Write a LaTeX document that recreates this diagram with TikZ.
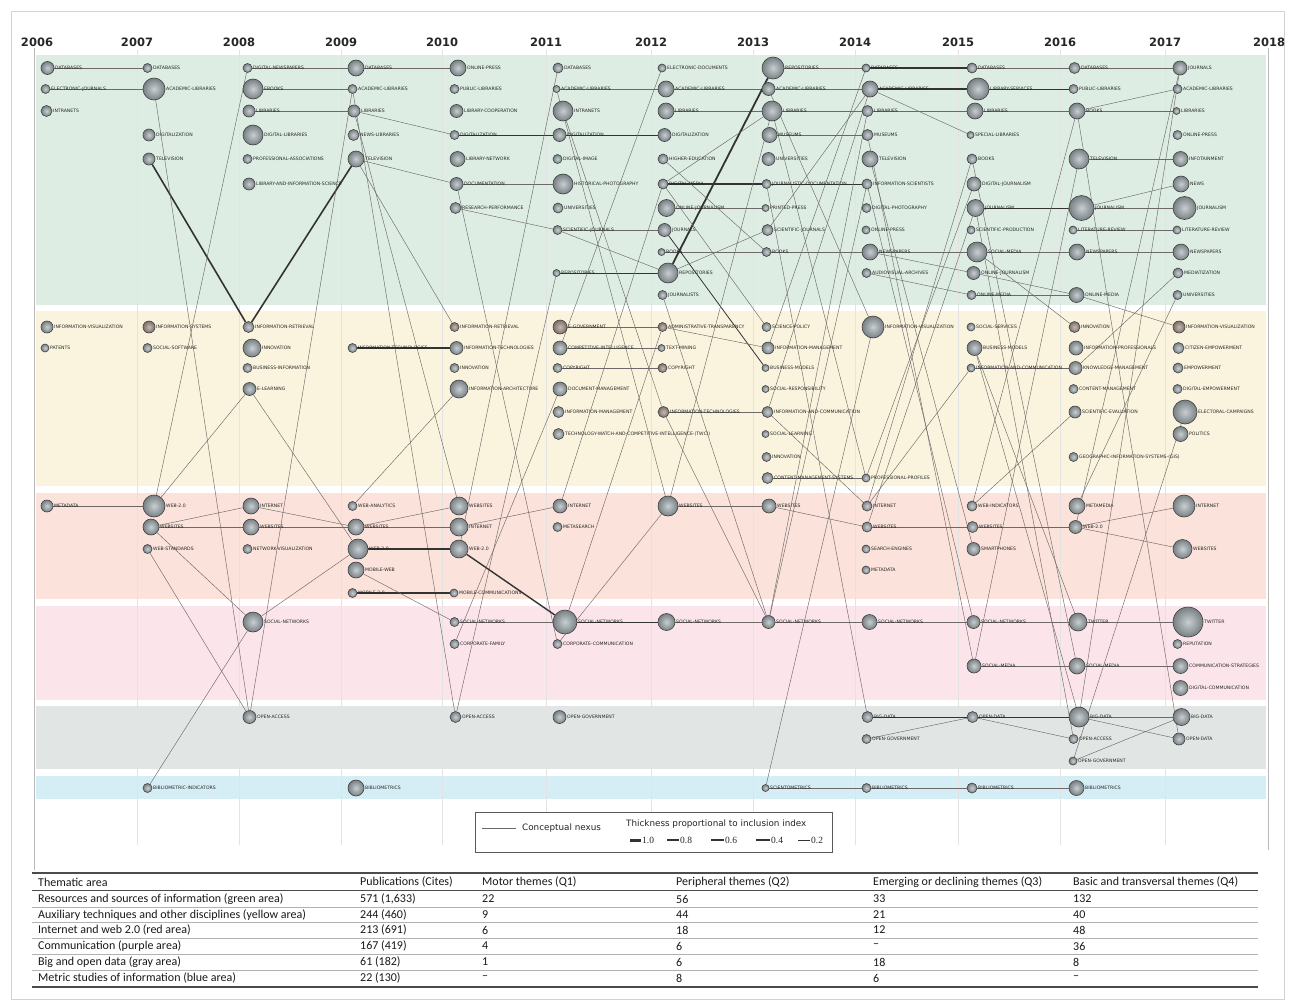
\documentclass[tikz,border=0pt]{standalone}
\usepackage{fontspec}
\setmainfont{DejaVu Sans}
\newfontfamily\tabfont{Carlito}
\newfontfamily\serfont{Liberation Serif}
\pgfdeclarelayer{bg}
\pgfdeclarelayer{edges}
\pgfsetlayers{bg,edges,main}
\definecolor{bgreen}{RGB}{221,237,227}
\definecolor{byellow}{RGB}{250,244,222}
\definecolor{bred}{RGB}{251,226,218}
\definecolor{bpink}{RGB}{251,229,235}
\definecolor{bgray}{RGB}{225,230,228}
\definecolor{bblue}{RGB}{213,237,245}
\definecolor{ndin}{RGB}{200,207,211}
\definecolor{ndout}{RGB}{120,128,132}
\definecolor{brin}{RGB}{198,184,178}
\definecolor{brout}{RGB}{126,111,105}
\definecolor{edgec}{RGB}{110,104,104}
\newcommand\T[6][nd]{\node[#1,minimum size=#5pt,label={[lbl]0:#6}] (#2) at ({#3+#5/2},#4) {};}
\newcommand\E[2]{\draw[ed] (#1) -- (#2);}
\newcommand\K[3]{\draw[edk=#1] (#2) -- (#3);}
\begin{document}
\begin{tikzpicture}[x=1pt,y=-1pt,label distance=0.4pt,
  nd/.style={circle,draw=black!75,line width=0.6pt,inner sep=0pt,shading=radial,inner color=ndin,outer color=ndout},
  nb/.style={nd,inner color=brin,outer color=brout},
  lbl/.style={font=\fontsize{4.6}{5}\selectfont,text=black!85,inner sep=0.3pt},
  ed/.style={draw=edgec,line width=0.45pt},
  edk/.style={draw=black!80,line width=#1},
  yr/.style={font=\fontsize{11.5}{13}\selectfont\bfseries,text=black!85,inner sep=0pt},
  tb/.style={font=\tabfont\fontsize{12}{13}\selectfont,anchor=west,inner sep=0pt,text=black!90},
  lg/.style={font=\fontsize{8.8}{10}\selectfont,anchor=west,inner sep=0pt,text=black!85},
  lgn/.style={font=\serfont\fontsize{9.5}{10}\selectfont,anchor=west,inner sep=0pt,text=black!85}]
\useasboundingbox (0,0) rectangle (1295,1001);
\begin{pgfonlayer}{bg}
\fill[white] (0,0) rectangle (1295,1001);
\draw[gray!35,line width=0.6pt] (11,11) rectangle (1284,999);
\fill[bgreen]  (36,55)  rectangle (1266,305);
\fill[byellow] (36,311) rectangle (1266,486);
\fill[bred]    (36,493) rectangle (1266,599);
\fill[bpink]   (36,606) rectangle (1266,700);
\fill[bgray]   (36,706) rectangle (1266,769);
\fill[bblue]   (36,776) rectangle (1266,799);
\foreach \x in {137,239,341,442,546,651,753,855,958,1060,1165}
  \draw[gray!22,line width=0.5pt] (\x,50) -- (\x,845);
\draw[gray!55,line width=0.6pt] (34,48) -- (34,870);
\draw[gray!55,line width=0.6pt] (1268,48) -- (1268,850);
\end{pgfonlayer}
% years
\node[yr] (yr06) at (37,42) {2006};
\node[yr] (yr07) at (137,42) {2007};
\node[yr] (yr08) at (239,42) {2008};
\node[yr] (yr09) at (341,42) {2009};
\node[yr] (yr10) at (442,42) {2010};
\node[yr] (yr11) at (546,42) {2011};
\node[yr] (yr12) at (651,42) {2012};
\node[yr] (yr13) at (753,42) {2013};
\node[yr] (yr14) at (855,42) {2014};
\node[yr] (yr15) at (958,42) {2015};
\node[yr] (yr16) at (1060,42) {2016};
\node[yr] (yr17) at (1165,42) {2017};
\node[yr] (yr18) at (1269,42) {2018};
% 2006
\T{n06g1}{41}{68}{13}{DATABASES}
\T{n06g2}{41}{89}{9}{ELECTRONIC-JOURNALS}
\T{n06g3}{41}{111}{11}{INTRANETS}
\T{n06y1}{41}{327}{12}{INFORMATION-VISUALIZATION}
\T{n06y2}{41}{348}{8}{PATENTS}
\T{n06r1}{41}{506}{12}{METADATA}
% 2007
\T{n07g1}{143}{68}{9}{DATABASES}
\T{n07g2}{143}{89}{22}{ACADEMIC-LIBRARIES}
\T{n07g4}{143}{135}{12}{DIGITALIZATION}
\T{n07g5}{143}{159}{12}{TELEVISION}
\T[nb]{n07y1}{143}{327}{12}{INFORMATION-SYSTEMS}
\T{n07y2}{143}{348}{9}{SOCIAL-SOFTWARE}
\T{n07r1}{143}{506}{22}{WEB-2.0}
\T{n07r2}{143}{527}{16}{WEBSITES}
\T{n07r3}{143}{549}{9}{WEB-STANDARDS}
\T{n07b1}{143}{788}{9}{BIBLIOMETRIC-INDICATORS}
% 2008
\T{n08g1}{243}{68}{9}{DIGITAL-NEWSPAPERS}
\T{n08g2}{243}{89}{20}{EBOOKS}
\T{n08g3}{243}{111}{12}{LIBRARIES}
\T{n08g4}{243}{135}{20}{DIGITAL-LIBRARIES}
\T{n08g5}{243}{159}{9}{PROFESSIONAL-ASSOCIATIONS}
\T{n08g6}{243}{184}{12}{LIBRARY-AND-INFORMATION-SCIENCE}
\T{n08y1}{243}{327}{11}{INFORMATION-RETRIEVAL}
\T{n08y2}{243}{348}{18}{INNOVATION}
\T{n08y3}{243}{368}{9}{BUSINESS-INFORMATION}
\T{n08y4}{243}{389}{13}{E-LEARNING}
\T{n08r1}{243}{506}{16}{INTERNET}
\T{n08r2}{243}{527}{16}{WEBSITES}
\T{n08r3}{243}{549}{9}{NETWORK-VISUALIZATION}
\T{n08p1}{243}{622}{20}{SOCIAL-NETWORKS}
\T{n08a1}{243}{717}{13}{OPEN-ACCESS}
% 2009
\T{n09g1}{348}{68}{16}{DATABASES}
\T{n09g2}{348}{89}{9}{ACADEMIC-LIBRARIES}
\T{n09g3}{348}{111}{12}{LIBRARIES}
\T{n09g4}{348}{135}{11}{NEWS-LIBRARIES}
\T{n09g5}{348}{159}{16}{TELEVISION}
\T{n09y2}{348}{348}{9}{INFORMATION-TECHNOLOGIES}
\T{n09r1}{348}{506}{9}{WEB-ANALYTICS}
\T{n09r2}{348}{527}{16}{WEBSITES}
\T{n09r3}{348}{549}{20}{WEB-2.0}
\T{n09r4}{348}{570}{16}{MOBILE-WEB}
\T{n09r5}{348}{593}{9}{MOBILE-2.0}
\T{n09b1}{348}{788}{16}{BIBLIOMETRICS}
% 2010
\T{n10g1}{450}{68}{16}{ONLINE-PRESS}
\T{n10g2}{450}{89}{9}{PUBLIC-LIBRARIES}
\T{n10g3}{450}{111}{13}{LIBRARY-COOPERATION}
\T{n10g4}{450}{135}{9}{DIGITALIZATION}
\T{n10g5}{450}{159}{15}{LIBRARY-NETWORK}
\T{n10g6}{450}{184}{13}{DOCUMENTATION}
\T{n10g7}{450}{208}{11}{RESEARCH-PERFORMANCE}
\T[nb]{n10y1}{450}{327}{9}{INFORMATION-RETRIEVAL}
\T{n10y2}{450}{348}{13}{INFORMATION-TECHNOLOGIES}
\T{n10y3}{450}{368}{9}{INNOVATION}
\T{n10y4}{450}{389}{18}{INFORMATION-ARCHITECTURE}
\T{n10r1}{450}{506}{18}{WEBSITES}
\T{n10r2}{450}{527}{18}{INTERNET}
\T{n10r3}{450}{549}{18}{WEB-2.0}
\T{n10r5}{450}{593}{8}{MOBILE-COMMUNICATIONS}
\T{n10p1}{450}{622}{9}{SOCIAL-NETWORKS}
\T{n10p2}{450}{644}{9}{CORPORATE-FAMILY}
\T{n10a1}{450}{717}{11}{OPEN-ACCESS}
% 2011
\T{n11g1}{553}{68}{10}{DATABASES}
\T{n11g2}{553}{89}{7}{ACADEMIC-LIBRARIES}
\T{n11g3}{553}{111}{20}{INTRANETS}
\T{n11g4}{553}{135}{13}{DIGITALIZATION}
\T{n11g5}{553}{159}{9}{DIGITAL-IMAGE}
\T{n11g6}{553}{184}{20}{HISTORICAL-PHOTOGRAPHY}
\T{n11g7}{553}{208}{10}{UNIVERSITIES}
\T{n11g8}{553}{230}{9}{SCIENTIFIC-JOURNALS}
\T{n11g10}{553}{273}{7}{REPOSITORIES}
\T[nb]{n11y1}{553}{327}{14}{E-GOVERNMENT}
\T{n11y2}{553}{348}{14}{COMPETITIVE-INTELLIGENCE}
\T{n11y3}{553}{368}{9}{COPYRIGHT}
\T{n11y4}{553}{389}{14}{DOCUMENT-MANAGEMENT}
\T{n11y5}{553}{412}{11}{INFORMATION-MANAGEMENT}
\T{n11y6}{553}{434}{11}{TECHNOLOGY-WATCH-AND-COMPETITIVE-INTELLIGENCE-(TWCI)}
\T{n11r1}{553}{506}{14}{INTERNET}
\T{n11r2}{553}{527}{9}{METASEARCH}
\T{n11p1}{553}{622}{24}{SOCIAL-NETWORKS}
\T{n11p2}{553}{644}{9}{CORPORATE-COMMUNICATION}
\T{n11a1}{553}{717}{13}{OPEN-GOVERNMENT}
% 2012
\T{n12g1}{658}{68}{8}{ELECTRONIC-DOCUMENTS}
\T{n12g2}{658}{89}{16}{ACADEMIC-LIBRARIES}
\T{n12g3}{658}{111}{16}{LIBRARIES}
\T{n12g4}{658}{135}{13}{DIGITALIZATION}
\T{n12g5}{658}{159}{10}{HIGHER-EDUCATION}
\T{n12g6}{658}{184}{10}{DIGITAL-MEDIA}
\T{n12g7}{658}{208}{17}{ONLINE-JOURNALISM}
\T{n12g8}{658}{230}{13}{JOURNALS}
\T{n12g9}{658}{252}{7}{BOOKS}
\T{n12g10}{658}{273}{20}{REPOSITORIES}
\T{n12g11}{658}{295}{9}{JOURNALISTS}
\T[nb]{n12y1}{658}{327}{9}{ADMINISTRATIVE-TRANSPARENCY}
\T{n12y2}{658}{348}{7}{TEXT-MINING}
\T[nb]{n12y3}{658}{368}{9}{COPYRIGHT}
\T[nb]{n12y5}{658}{412}{11}{INFORMATION-TECHNOLOGIES}
\T{n12r1}{658}{506}{20}{WEBSITES}
\T{n12p1}{658}{622}{17}{SOCIAL-NETWORKS}
% 2013
\T{n13g1}{762}{68}{22}{REPOSITORIES}
\T{n13g2}{762}{89}{13}{ACADEMIC-LIBRARIES}
\T{n13g3}{762}{111}{20}{LIBRARIES}
\T{n13g4}{762}{135}{15}{MUSEUMS}
\T{n13g5}{762}{159}{13}{UNIVERSITIES}
\T{n13g6}{762}{184}{9}{JOURNALISTIC-DOCUMENTATION}
\T{n13g7}{762}{208}{7}{PRINTED-PRESS}
\T{n13g8}{762}{230}{11}{SCIENTIFIC-JOURNALS}
\T{n13g9}{762}{252}{9}{BOOKS}
\T{n13y1}{762}{327}{9}{SCIENCE-POLICY}
\T{n13y2}{762}{348}{12}{INFORMATION-MANAGEMENT}
\T{n13y3}{762}{368}{7}{BUSINESS-MODELS}
\T{n13y4}{762}{389}{7}{SOCIAL-RESPONSIBILITY}
\T{n13y5}{762}{412}{11}{INFORMATION-AND-COMMUNICATION}
\T{n13y6}{762}{434}{7}{SOCIAL-LEARNING}
\T{n13y7}{762}{457}{9}{INNOVATION}
\T{n13y8}{762}{478}{11}{CONTENT-MANAGEMENT-SYSTEMS}
\T{n13r1}{762}{506}{14}{WEBSITES}
\T{n13p1}{762}{622}{13}{SOCIAL-NETWORKS}
\T{n13b1}{762}{788}{7}{SCIENTOMETRICS}
% 2014
\T{n14g1}{862}{68}{8}{DATABASES}
\T{n14g2}{862}{89}{16}{ACADEMIC-LIBRARIES}
\T{n14g3}{862}{111}{11}{LIBRARIES}
\T{n14g4}{862}{135}{11}{MUSEUMS}
\T{n14g5}{862}{159}{16}{TELEVISION}
\T{n14g6}{862}{184}{10}{INFORMATION-SCIENTISTS}
\T{n14g7}{862}{208}{9}{DIGITAL-PHOTOGRAPHY}
\T{n14g8}{862}{230}{8}{ONLINE-PRESS}
\T{n14g9}{862}{252}{16}{NEWSPAPERS}
\T{n14g10}{862}{273}{9}{AUDIOVISUAL-ARCHIVES}
\T{n14y1}{862}{327}{22}{INFORMATION-VISUALIZATION}
\T{n14y8}{862}{478}{8}{PROFESSIONAL-PROFILES}
\T{n14r1}{862}{506}{10}{INTERNET}
\T{n14r2}{862}{527}{10}{WEBSITES}
\T{n14r3}{862}{549}{8}{SEARCH-ENGINES}
\T{n14r4}{862}{570}{8}{METADATA}
\T{n14p1}{862}{622}{15}{SOCIAL-NETWORKS}
\T{n14a1}{862}{717}{11}{BIG-DATA}
\T{n14a2}{862}{739}{9}{OPEN-GOVERNMENT}
\T{n14b1}{862}{788}{9}{BIBLIOMETRICS}
% 2015
\T{n15g1}{967}{68}{10}{DATABASES}
\T{n15g2}{967}{89}{22}{LIBRARY-SERVICES}
\T{n15g3}{967}{111}{16}{LIBRARIES}
\T{n15g4}{967}{135}{7}{SPECIAL-LIBRARIES}
\T{n15g5}{967}{159}{10}{BOOKS}
\T{n15g6}{967}{184}{14}{DIGITAL-JOURNALISM}
\T{n15g7}{967}{208}{17}{JOURNALISM}
\T{n15g8}{967}{230}{8}{SCIENTIFIC-PRODUCTION}
\T{n15g9}{967}{252}{20}{SOCIAL-MEDIA}
\T{n15g10}{967}{273}{13}{ONLINE-JOURNALISM}
\T{n15g11}{967}{295}{9}{ONLINE-MEDIA}
\T{n15y1}{967}{327}{8}{SOCIAL-SERVICES}
\T{n15y2}{967}{348}{15}{BUSINESS-MODELS}
\T{n15y3}{967}{368}{8}{INFORMATION-AND-COMMUNICATION}
\T{n15r1}{967}{506}{10}{WEB-INDICATORS}
\T{n15r2}{967}{527}{11}{WEBSITES}
\T{n15r3}{967}{549}{13}{SMARTPHONES}
\T{n15p1}{967}{622}{13}{SOCIAL-NETWORKS}
\T{n15p3}{967}{666}{14}{SOCIAL-MEDIA}
\T{n15a1}{967}{717}{11}{OPEN-DATA}
\T{n15b1}{967}{788}{10}{BIBLIOMETRICS}
% 2016
\T{n16g1}{1069}{68}{11}{DATABASES}
\T{n16g2}{1069}{89}{9}{PUBLIC-LIBRARIES}
\T{n16g3}{1069}{111}{16}{BOOKS}
\T{n16g5}{1069}{159}{20}{TELEVISION}
\T{n16g7}{1069}{208}{25}{JOURNALISM}
\T{n16g8}{1069}{230}{8}{LITERATURE-REVIEW}
\T{n16g9}{1069}{252}{16}{NEWSPAPERS}
\T{n16g11}{1069}{295}{15}{ONLINE-MEDIA}
\T[nb]{n16y1}{1069}{327}{11}{INNOVATION}
\T{n16y2}{1069}{348}{14}{INFORMATION-PROFESSIONALS}
\T{n16y3}{1069}{368}{13}{KNOWLEDGE-MANAGEMENT}
\T{n16y4}{1069}{389}{9}{CONTENT-MANAGEMENT}
\T{n16y5}{1069}{412}{12}{SCIENTIFIC-EVALUATION}
\T{n16y7}{1069}{457}{9}{GEOGRAPHIC-INFORMATION-SYSTEMS-(GIS)}
\T{n16r1}{1069}{506}{16}{METAMEDIA}
\T{n16r2}{1069}{527}{13}{WEB-2.0}
\T{n16p1}{1069}{622}{18}{TWITTER}
\T{n16p3}{1069}{666}{16}{SOCIAL-MEDIA}
\T{n16a1}{1069}{717}{20}{BIG-DATA}
\T{n16a2}{1069}{739}{9}{OPEN-ACCESS}
\T{n16a3}{1069}{761}{8}{OPEN-GOVERNMENT}
\T{n16b1}{1069}{788}{15}{BIBLIOMETRICS}
% 2017
\T{n17g1}{1173}{68}{14}{JOURNALS}
\T{n17g2}{1173}{89}{9}{ACADEMIC-LIBRARIES}
\T{n17g3}{1173}{111}{7}{LIBRARIES}
\T{n17g4}{1173}{135}{9}{ONLINE-PRESS}
\T{n17g5}{1173}{159}{15}{INFOTAINMENT}
\T{n17g6}{1173}{184}{16}{NEWS}
\T{n17g7}{1173}{208}{23}{JOURNALISM}
\T{n17g8}{1173}{230}{8}{LITERATURE-REVIEW}
\T{n17g9}{1173}{252}{16}{NEWSPAPERS}
\T{n17g10}{1173}{273}{10}{MEDIATIZATION}
\T{n17g11}{1173}{295}{9}{UNIVERSITIES}
\T[nb]{n17y1}{1173}{327}{12}{INFORMATION-VISUALIZATION}
\T{n17y2}{1173}{348}{11}{CITIZEN-EMPOWERMENT}
\T{n17y3}{1173}{368}{10}{EMPOWERMENT}
\T{n17y4}{1173}{389}{9}{DIGITAL-EMPOWERMENT}
\T{n17y5}{1173}{412}{24}{ELECTORAL-CAMPAIGNS}
\T{n17y6}{1173}{434}{15}{POLITICS}
\T{n17r1}{1173}{506}{22}{INTERNET}
\T{n17r3}{1173}{549}{19}{WEBSITES}
\T{n17p1}{1173}{622}{30}{TWITTER}
\T{n17p2}{1173}{644}{9}{REPUTATION}
\T{n17p3}{1173}{666}{15}{COMMUNICATION-STRATEGIES}
\T{n17p4}{1173}{688}{15}{DIGITAL-COMMUNICATION}
\T{n17a1}{1173}{717}{17}{BIG-DATA}
\T{n17a2}{1173}{739}{12}{OPEN-DATA}
% edges
\begin{pgfonlayer}{edges}
\E{n06g1}{n07g1}
\E{n06g2}{n07g2}
\E{n08g1}{n09g1}
\E{n09g1}{n10g1}
\E{n08g2}{n09g2}
\E{n08g3}{n09g3}
\E{n09g3}{n10g4}
\E{n09g5}{n10g6}
\K{0.8pt}{n10g4}{n11g4}
\K{0.8pt}{n11g4}{n12g4}
\E{n10g6}{n11g6}
\E{n11g2}{n12g2}
\E{n12g2}{n13g2}
\E{n13g2}{n14g2}
\E{n12g3}{n13g3}
\E{n13g3}{n14g3}
\E{n14g3}{n15g3}
\E{n15g3}{n16g3}
\E{n16g3}{n17g3}
\K{1.2pt}{n12g6}{n13g6}
\K{1.0pt}{n13g6}{n14g6}
\E{n12g7}{n13g7}
\E{n11g8}{n12g8}
\E{n12g9}{n13g9}
\E{n13g9}{n14g9}
\K{0.9pt}{n11g10}{n12g10}
\E{n13g1}{n14g1}
\E{n13g4}{n14g4}
\K{1.4pt}{n14g1}{n15g1}
\E{n15g1}{n16g1}
\E{n16g1}{n17g1}
\K{1.4pt}{n14g2}{n15g2}
\K{0.8pt}{n15g2}{n16g2}
\E{n14g9}{n15g9}
\E{n15g9}{n16g9}
\E{n16g9}{n17g9}
\K{1.0pt}{n15g7}{n16g7}
\E{n16g7}{n17g7}
\E{n16g8}{n17g8}
\E{n16g5}{n17g5}
\E{n15g11}{n16g11}
\E{n10g7}{n11g8}
\E{n11g8}{n12g10}
\K{1.6pt}{n07g5}{n08y1}
\K{1.6pt}{n08y1}{n09g5}
\E{n07g2}{n08a1}
\E{n07r1}{n08g1}
\E{n09g2}{n08a1}
\E{n09g2}{n10a1}
\E{n09g3}{n10r1}
\E{n09g5}{n10y1}
\E{n10g6}{n11p2}
\E{n11g2}{n12r1}
\E{n10a1}{n11g10}
\E{n11y2}{n12g1}
\K{1.8pt}{n12g10}{n13g1}
\E{n12g6}{n13g3}
\E{n12g6}{n13y1}
\K{0.8pt}{n12g8}{n13y3}
\E{n13g3}{n12r1}
\E{n12g10}{n13g8}
\E{n12g5}{n13g9}
\E{n11r1}{n12g6}
\E{n11g3}{n12y5}
\E{n10r3}{n11g1}
\E{n14g2}{n15g4}
\E{n16g3}{n17g2}
\E{n14g10}{n15g11}
\E{n14g9}{n15g10}
\E{n15g10}{n16g11}
\E{n16g7}{n17g6}
\E{n14g5}{n15r3}
\E{n14g4}{n15p3}
\E{n14g6}{n15p1}
\E{n16g3}{n17a2}
\E{n15r1}{n16g3}
\E{n14r1}{n15g5}
\E{n14r2}{n15g7}
\E{n14y8}{n15g6}
\E{n16r2}{n17g1}
\E{n16a1}{n17g1}
\E{n16r1}{n17g11}
\E{n16y3}{n17g10}
\E{n16g11}{n17y1}
\E{n15g9}{n16y1}
\E{n15p3}{n16g5}
\E{n15g5}{n16p3}
\E{n15g7}{n16a2}
\E{n15y2}{n16a1}
\E{n15y2}{n16p1}
\E{n16a3}{n17y5}
\E{n13g6}{n14a1}
\E{n13b1}{n14y1}
\E{n13p1}{n14g6}
\E{n14g1}{n13y2}
\E{n14g2}{n13y5}
\E{n14g3}{n13p1}
\E{n13g2}{n14y1}
\E{n13g3}{n14y8}
\E{n13g8}{n14g2}
\E{n13y5}{n14r1}
\E{n12y5}{n13p1}
\E{n12g11}{n13p1}
\E{n11p1}{n12y1}
\E{n11p2}{n12r1}
\E{n15y3}{n16y3}
\E{n14r1}{n15y3}
\E{n15r1}{n16y5}
\E{n11y1}{n12y1}
\E{n12y1}{n13y2}
\E{n11y2}{n12y2}
\E{n11y3}{n12y3}
\E{n12y5}{n13y5}
\E{n13y8}{n14y8}
\E{n12r1}{n13r1}
\E{n13r1}{n14r2}
\E{n10r2}{n11r1}
\K{1.4pt}{n10r3}{n11p1}
\K{1.2pt}{n09y2}{n10y2}
\E{n06r1}{n07r1}
\E{n07r2}{n08r2}
\E{n08r2}{n09r2}
\E{n09r2}{n10r2}
\E{n07r2}{n08r1}
\E{n08r1}{n09r2}
\E{n09r2}{n10r1}
\K{1.4pt}{n09r3}{n10r3}
\E{n09r1}{n10y4}
\K{1.8pt}{n09r5}{n10r5}
\E{n07r1}{n08y4}
\E{n08y4}{n09r3}
\E{n07r3}{n08a1}
\E{n07r2}{n08p1}
\E{n07b1}{n08p1}
\E{n08p1}{n09r3}
\E{n09r4}{n10p1}
\E{n10p2}{n11y4}
\E{n10p1}{n11p1}
\K{0.9pt}{n11p1}{n12p1}
\E{n12p1}{n13p1}
\E{n13p1}{n14p1}
\E{n14p1}{n15p1}
\E{n15p1}{n16p1}
\E{n16p1}{n17p1}
\E{n15p3}{n16p3}
\E{n16p3}{n17p3}
\K{0.9pt}{n14a1}{n15a1}
\K{0.9pt}{n15a1}{n16a1}
\E{n16a1}{n17a1}
\E{n14a2}{n15a1}
\E{n15a1}{n16a2}
\E{n16a1}{n17a2}
\E{n16a3}{n17a1}
\E{n13b1}{n14b1}
\E{n14b1}{n15b1}
\E{n15b1}{n16b1}
\E{n14r2}{n15r2}
\E{n15r2}{n16r2}
\E{n16r2}{n17r1}
\E{n16r2}{n17r3}
\end{pgfonlayer}
% legend
\node[draw=black!65,line width=0.7pt,minimum width=357pt,minimum height=40pt,anchor=north west,inner sep=0pt,fill=white] (legbox) at (475,812) {};
\coordinate (la) at (482,828);
\coordinate (lb) at (516,828);
\draw[ed] (la) -- (lb);
\node[lg] (lc) at (522,828) {Conceptual nexus};
\node[lg] (lt) at (626,824.5) {Thickness proportional to inclusion index};
\coordinate (s1a) at (630,840); \coordinate (s1b) at (641,840);
\draw[black!80,line width=3pt] (s1a) -- (s1b);
\node[lgn] (t1) at (642,840) {1.0};
\coordinate (s2a) at (667,840); \coordinate (s2b) at (679,840);
\draw[black!80,line width=2.4pt] (s2a) -- (s2b);
\node[lgn] (t2) at (680,840) {0.8};
\coordinate (s3a) at (711,840); \coordinate (s3b) at (724,840);
\draw[black!80,line width=1.7pt] (s3a) -- (s3b);
\node[lgn] (t3) at (725,840) {0.6};
\coordinate (s4a) at (756,840); \coordinate (s4b) at (770,840);
\draw[black!80,line width=1.1pt] (s4a) -- (s4b);
\node[lgn] (t4) at (771,840) {0.4};
\coordinate (s5a) at (798,840); \coordinate (s5b) at (810,840);
\draw[black!80,line width=0.6pt] (s5a) -- (s5b);
\node[lgn] (t5) at (811,840) {0.2};
% table
\draw[black!70,line width=1.4pt] (32,873) -- (1258,873);
\draw[black!70,line width=0.8pt] (32,890) -- (1258,890);
\foreach \yy in {907,922,938,954,970}
  \draw[gray!60,line width=0.4pt] (32,\yy) -- (1258,\yy);
\draw[black!70,line width=1.4pt] (32,987) -- (1258,987);
\node[tb] (h1) at (38,882) {Thematic area};
\node[tb] (h2) at (360,882) {Publications (Cites)};
\node[tb] (h3) at (482,882) {Motor themes (Q1)};
\node[tb] (h4) at (676,882) {Peripheral themes (Q2)};
\node[tb] (h5) at (873,882) {Emerging or declining themes (Q3)};
\node[tb] (h6) at (1073,882) {Basic and transversal themes (Q4)};
\foreach \yy/\a/\b/\c/\d/\e/\f [count=\i] in {
  899/Resources and sources of information (green area)/{571 (1,633)}/22/56/33/132,
  915/Auxiliary techniques and other disciplines (yellow area)/{244 (460)}/9/44/21/40,
  930/Internet and web 2.0 (red area)/{213 (691)}/6/18/12/48,
  946/Communication (purple area)/{167 (419)}/4/6/–/36,
  962/Big and open data (gray area)/{61 (182)}/1/6/18/8,
  978/Metric studies of information (blue area)/{22 (130)}/–/8/6/–}{
  \node[tb] (ra\i) at (38,\yy) {\a};
  \node[tb] (rb\i) at (360,\yy) {\b};
  \node[tb] (rc\i) at (482,\yy) {\c};
  \node[tb] (rd\i) at (676,\yy) {\d};
  \node[tb] (re\i) at (873,\yy) {\e};
  \node[tb] (rf\i) at (1073,\yy) {\f};
}
\end{tikzpicture}
\end{document}
